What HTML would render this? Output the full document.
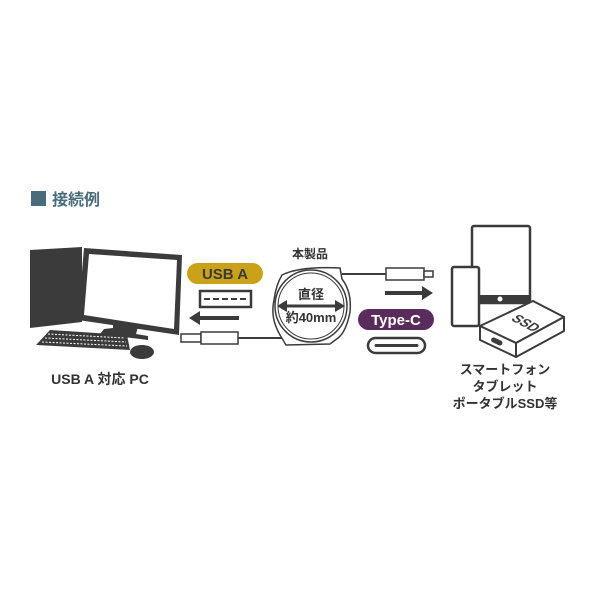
<!DOCTYPE html>
<html><head><meta charset="utf-8"><style>
body{margin:0;background:#fff;}
svg{display:block;}
text{font-family:"Liberation Sans","Noto Sans CJK JP",sans-serif;font-weight:bold;}
</style></head><body>
<svg width="600" height="600" viewBox="0 0 600 600" xmlns="http://www.w3.org/2000/svg">
<rect x="31" y="191" width="15" height="15" fill="#4a6b7a"/>
<text x="52" y="205" font-size="16" fill="#4a6b7a">接続例</text>

<polygon points="30,250 82,247 82,322 30,328" fill="#3b3b3b"/>
<polygon points="84,248 182,255 179,335 78,320" fill="#3b3b3b"/>
<polygon points="89,254 177,260 174,329 84,315" fill="#fff"/>
<polygon points="113,323 138,327 136,334 148,336 148,340 100,334 104,329 113,328" fill="#3b3b3b"/>
<polygon points="50,330 127,335 130,350 36,345" fill="#3b3b3b"/>
<g stroke="#fff" stroke-width="1" stroke-dasharray="2,1.5">
<line x1="48" y1="334" x2="125" y2="338"/><line x1="45" y1="338" x2="126" y2="342"/><line x1="42" y1="342" x2="127" y2="346"/>
</g>
<ellipse cx="142" cy="352" rx="12" ry="7" fill="#3b3b3b"/>
<text x="100" y="384" font-size="14" fill="#333" text-anchor="middle">USB A 対応 PC</text>

<rect x="187" y="263" width="76" height="21" rx="10.5" fill="#c9a21a"/>
<text x="225" y="279" font-size="15" fill="#3a3a3a" text-anchor="middle">USB A</text>
<rect x="200" y="291" width="51" height="16" fill="none" stroke="#3b3b3b" stroke-width="2.5"/>
<line x1="204" y1="299" x2="247" y2="299" stroke="#3b3b3b" stroke-width="2" stroke-dasharray="6,3"/>
<line x1="198" y1="318" x2="239" y2="318" stroke="#3b3b3b" stroke-width="4"/>
<polygon points="189,318 200,311 200,325" fill="#3b3b3b"/>
<rect x="181" y="334" width="20" height="8" fill="#fff" stroke="#3b3b3b" stroke-width="1.5"/>
<rect x="201" y="332" width="37" height="12" fill="#fff" stroke="#3b3b3b" stroke-width="1.5"/>
<line x1="238" y1="338" x2="284" y2="338" stroke="#3b3b3b" stroke-width="2"/>

<text x="310" y="258" font-size="12" fill="#333" text-anchor="middle">本製品</text>
<path d="M282,275 Q300,266 340,268 L342,279 Q352,292 350,312 Q346,332 338,338 L330,344 L286,345 L280,335 Q270,318 274,300 Q276,285 282,275 Z" fill="#fff" stroke="#3b3b3b" stroke-width="1.5"/>
<circle cx="311" cy="306" r="36" fill="#fff" stroke="#3b3b3b" stroke-width="1.5"/>
<circle cx="311" cy="306" r="33" fill="none" stroke="#3b3b3b" stroke-width="1"/>
<text x="311" y="299" font-size="13" fill="#333" text-anchor="middle">直径</text>
<line x1="284" y1="306" x2="338" y2="306" stroke="#3b3b3b" stroke-width="3"/>
<polygon points="277,306 287,300 287,312" fill="#3b3b3b"/>
<polygon points="345,306 335,300 335,312" fill="#3b3b3b"/>
<text x="311" y="322" font-size="13" fill="#333" text-anchor="middle">約40mm</text>
<line x1="342" y1="274" x2="386" y2="274" stroke="#3b3b3b" stroke-width="2"/>
<rect x="386" y="268" width="38" height="12" fill="#fff" stroke="#3b3b3b" stroke-width="1.5"/>
<rect x="424" y="271" width="9" height="6" fill="#fff" stroke="#3b3b3b" stroke-width="1.5"/>
<line x1="385" y1="293" x2="424" y2="293" stroke="#3b3b3b" stroke-width="4"/>
<polygon points="433,293 422,286 422,300" fill="#3b3b3b"/>
<rect x="358" y="309" width="76" height="21" rx="10.5" fill="#5a2c5c"/>
<text x="396" y="325" font-size="15" fill="#fff" text-anchor="middle">Type-C</text>
<rect x="368" y="338" width="57" height="15" rx="7.5" fill="none" stroke="#3b3b3b" stroke-width="2.5"/>
<line x1="376" y1="345.5" x2="417" y2="345.5" stroke="#3b3b3b" stroke-width="3" stroke-linecap="round"/>

<rect x="472" y="226" width="58" height="77" rx="2" fill="#fff" stroke="#3b3b3b" stroke-width="2.5"/>
<rect x="472" y="295" width="58" height="8" fill="#3b3b3b"/>
<circle cx="500" cy="299" r="2.5" fill="#fff"/>
<rect x="452" y="267" width="27" height="59" rx="2" fill="#fff" stroke="#3b3b3b" stroke-width="2.5"/>
<polygon points="480,326 533,301 564,317 516,343" fill="#fff" stroke="#3b3b3b" stroke-width="2" stroke-linejoin="round"/>
<polygon points="480,326 516,343 516,357 480,340" fill="#fff" stroke="#3b3b3b" stroke-width="2" stroke-linejoin="round"/>
<polygon points="516,343 564,317 564,331 516,357" fill="#fff" stroke="#3b3b3b" stroke-width="2" stroke-linejoin="round"/>
<rect x="491" y="339" width="12" height="5" rx="2.5" fill="#3b3b3b" transform="rotate(25 497 341)"/>
<text x="0" y="0" font-size="13" fill="#3b3b3b" text-anchor="middle" transform="translate(522,326) rotate(28) skewX(-25)">SSD</text>
<text x="505" y="374" font-size="13" fill="#333" text-anchor="middle">スマートフォン</text>
<text x="505" y="391" font-size="13" fill="#333" text-anchor="middle">タブレット</text>
<text x="505" y="408" font-size="13" fill="#333" text-anchor="middle">ポータブルSSD等</text>
</svg>
</body></html>
